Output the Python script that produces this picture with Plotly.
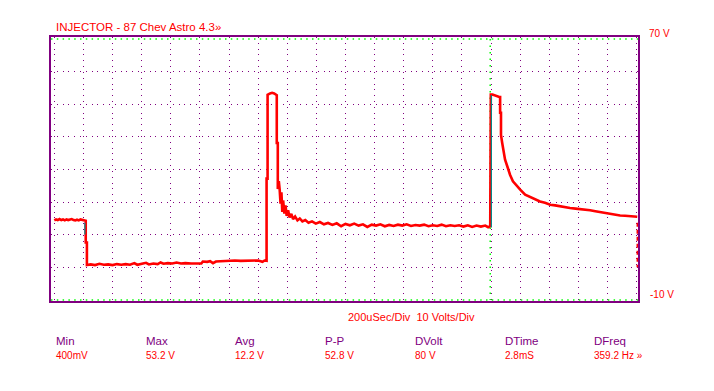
import plotly.graph_objects as go

# ---- data (time in microseconds, volts) ----
t_us = [0, 6, 12, 18, 24, 30, 36, 42, 48, 54, 60, 66, 72, 78, 84, 90, 96, 103,
        108, 108, 112, 112,
        125, 140, 155, 170, 185, 200, 215, 230, 245, 260, 275, 285, 300, 315, 325, 340,
        355, 365, 375, 390, 405, 420, 435, 450, 470, 490, 505, 510, 525, 535, 545, 555,
        570, 585, 600, 620, 640, 660, 680, 700, 715, 722, 729,
        729, 732.5, 732.5, 741, 748, 755, 763,
        764, 764, 767.5, 767.5, 771, 774, 777, 780, 783, 786, 790, 794, 798, 803, 808,
        814, 820, 827, 835, 843, 852, 862, 873, 885, 898, 912, 926, 940, 955, 970, 985,
        1000, 1015, 1030, 1045, 1060, 1075, 1090, 1105, 1120, 1135, 1150, 1165, 1180,
        1195, 1210, 1225, 1240, 1255, 1270, 1285, 1300, 1315, 1330, 1345, 1360, 1375,
        1390, 1405, 1420, 1435, 1450, 1465, 1480, 1490, 1497,
        1497, 1499, 1499, 1505, 1512, 1520, 1528,
        1531, 1531, 1534, 1534, 1538, 1541, 1548, 1557, 1565, 1575, 1589, 1600, 1617,
        1634, 1650, 1668, 1685, 1703, 1720, 1737, 1755, 1771, 1790, 1806, 1823, 1840,
        1858, 1875, 1892, 1909, 1926, 1943, 1960, 1978, 1990, 2002]
volts = [14.4, 14.7, 14.5, 14.8, 14.5, 14.7, 14.4, 14.7, 14.5, 14.6, 14.8, 14.5, 14.4, 14.6, 14.4, 14.7, 14.6, 14.3,
         14.3, 7.6, 7.6, 0.7,
         0.9, 0.7, 1.1, 0.8, 0.9, 0.7, 1.0, 0.8, 1.0, 0.8, 1.3, 0.8, 1.0, 1.4, 0.9, 1.2,
         1.0, 1.5, 1.1, 1.3, 1.2, 1.5, 1.2, 1.3, 1.2, 1.3, 1.2, 1.8, 1.7, 1.9, 1.3, 1.8,
         1.9, 2.0, 1.9, 2.1, 2.0, 2.1, 2.0, 2.1, 1.7, 2.1, 2.0,
         27.2, 27.2, 52.9, 53.3, 53.5, 53.3, 52.8,
         52.8, 38.1, 38.1, 24.0, 26.4, 23.8, 19.5, 23.0, 17.0, 20.5, 16.5, 19.0, 15.8, 17.5, 15.3,
         16.4, 14.8, 15.6, 14.4, 15.0, 14.1, 14.5, 13.7, 14.1, 13.4, 13.9, 13.2, 13.6, 13.0, 13.5, 12.6,
         13.3, 12.9, 13.4, 12.8, 13.2, 12.4, 13.1, 12.8, 13.2, 12.6, 13.0, 12.7, 13.1,
         12.8, 13.2, 12.7, 13.0, 12.8, 13.1, 12.6, 12.9, 12.7, 13.1, 12.6, 12.9, 12.7,
         12.9, 12.5, 12.9, 12.4, 12.8, 12.5, 12.8, 12.3, 12.6,
         33.0, 33.0, 53.0, 53.0, 52.7, 52.5, 52.2,
         52.2, 47.4, 47.4, 40.6, 38.2, 36.1, 33.0, 30.6, 28.4, 26.4, 24.8, 23.8, 22.3,
         21.6, 20.8, 20.2, 19.8, 19.2, 19.0, 18.7, 18.5, 18.2, 18.0, 17.9, 17.7, 17.5,
         17.2, 16.9, 16.7, 16.4, 16.1, 15.9, 15.8, 15.7, 15.6, 15.5]

# edge highlights (second channel, teal)
edge_t = [105, 105, None, 1501, 1501]
edge_v = [13.7, 10.1, None, 52.8, 12.2]

# trigger marker
trig_t = [2002, 2002]
trig_v = [13.7, 0.0]

cursor_time = 1497
volt_top, volt_bottom = 70, -10

title_text = "INJECTOR - 87 Chev Astro 4.3\u00bb"
scale_text = "200uSec/Div \u00a010 Volts/Div"
stat_names = ["Min", "Max", "Avg", "P-P", "DVolt", "DTime", "DFreq"]
stat_values = ["400mV", "53.2 V", "12.2 V", "52.8 V", "80 V", "2.8mS", "359.2 Hz \u00bb"]
grid_t = list(range(0, 2001, 100))
grid_v = [0, 10, 20, 30, 40, 50, 60]

PURPLE = "#800080"
RED = "#ff0000"
GREEN = "#00ff00"
FONT = "Liberation Sans, Arial, sans-serif"

x_range = [-11.3, 2004.5]
y_range = [-10.31, 70.61]

fig = go.Figure()

# green cursor lines
fig.add_trace(go.Scatter(x=[x_range[0], x_range[1], None, x_range[0], x_range[1]],
                         y=[volt_top, volt_top, None, volt_bottom, volt_bottom],
                         mode="lines", line=dict(color=GREEN, width=1.5, dash="1.5px,4.3px"),
                         hoverinfo="skip", showlegend=False))
fig.add_trace(go.Scatter(x=[cursor_time, cursor_time], y=[volt_top, volt_bottom],
                         mode="lines", line=dict(color=GREEN, width=1.5, dash="1.5px,5px"),
                         hoverinfo="skip", showlegend=False))

fig.add_trace(go.Scatter(x=t_us, y=volts, mode="lines",
                         line=dict(color=RED, width=2.6), hoverinfo="skip", showlegend=False))
fig.add_trace(go.Scatter(x=edge_t, y=edge_v, mode="lines",
                         line=dict(color="#008b8b", width=1.2), hoverinfo="skip", showlegend=False))
fig.add_trace(go.Scatter(x=trig_t, y=trig_v, mode="lines",
                         line=dict(color=RED, width=1.5, dash="4px,3px"), hoverinfo="skip", showlegend=False))

ann = []
ann.append(dict(text=title_text, xref="paper", yref="paper", x=0, y=1, xshift=3, yshift=10,
                xanchor="left", yanchor="middle", showarrow=False,
                font=dict(family=FONT, size=11.5, color=RED)))
ann.append(dict(text="70 V", xref="paper", yref="y", x=1, y=volt_top, xshift=9, yshift=5,
                xanchor="left", yanchor="middle", showarrow=False,
                font=dict(family=FONT, size=10, color=RED)))
ann.append(dict(text="-10 V", xref="paper", yref="y", x=1, y=volt_bottom, xshift=10, yshift=5,
                xanchor="left", yanchor="middle", showarrow=False,
                font=dict(family=FONT, size=10, color=RED)))
ann.append(dict(text=scale_text, xref="paper", yref="paper", x=0, y=0, xshift=294.7, yshift=-15.7,
                xanchor="left", yanchor="middle", showarrow=False,
                font=dict(family=FONT, size=11, color=RED)))
for i, (n, v) in enumerate(zip(stat_names, stat_values)):
    ann.append(dict(text=n, xref="paper", yref="paper", x=0, y=0, xshift=3 + 89.7 * i, yshift=-40,
                    xanchor="left", yanchor="middle", showarrow=False,
                    font=dict(family=FONT, size=11.5, color=PURPLE)))
    ann.append(dict(text=v, xref="paper", yref="paper", x=0, y=0, xshift=3 + 89.7 * i, yshift=-54.3,
                    xanchor="left", yanchor="middle", showarrow=False,
                    font=dict(family=FONT, size=10, color=RED)))

# page body has an 8px margin: size/margins compensate so the plot lands at the reference spot
fig.update_layout(
    width=706, height=383,
    margin=dict(l=43, r=76, t=29, b=90),
    paper_bgcolor="white", plot_bgcolor="white",
    annotations=ann,
    xaxis=dict(range=x_range, showline=True, mirror=True, linecolor=PURPLE, linewidth=2,
               showticklabels=False, ticks="", tickvals=grid_t, showgrid=True,
               gridcolor=PURPLE, gridwidth=1, griddash="1px,4.82px", zeroline=False, fixedrange=True),
    yaxis=dict(range=y_range, showline=True, mirror=True, linecolor=PURPLE, linewidth=2,
               showticklabels=False, ticks="", tickvals=grid_v, showgrid=True,
               gridcolor=PURPLE, gridwidth=1, griddash="1px,4.8px", zeroline=False, fixedrange=True),
)

fig.write_html("out.html", config={"displayModeBar": False})
